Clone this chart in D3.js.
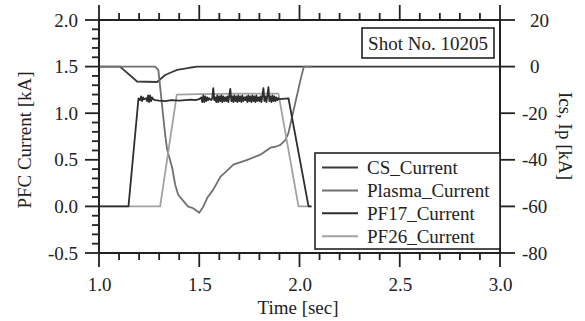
<!DOCTYPE html>
<html>
<head>
<meta charset="utf-8">
<script src="https://cdn.jsdelivr.net/npm/d3@7"></script>
<style>
  body { margin: 0; background: #fff; }
  svg text { font-family: "Liberation Serif", "Times New Roman", serif; fill: #222; }
</style>
</head>
<body>
<svg id="chart" width="585" height="321"></svg>
<script>
// traces: [time sec, value]
var csCurrent = [[1.0,0],[1.105,0],[1.19,-6.4],[1.29,-6.6],[1.33,-3.6],[1.37,-2.1],[1.39,-1.4],[1.45,-0.5],[1.49,0],[3.0,0]];

var plasmaCurrent = [[1.0,0],[1.28,0],[1.296,-1.4],[1.33,-29.3],[1.34,-35.7],[1.365,-43.4],[1.38,-50.7],[1.395,-55],
  [1.415,-57.1],[1.445,-60.1],[1.465,-60.6],[1.48,-61.4],[1.50,-62.7],[1.52,-60.1],[1.54,-56.3],[1.57,-52.8],
  [1.605,-47.3],[1.64,-44.5],[1.67,-42.1],[1.74,-40],[1.805,-37.8],[1.855,-34.8],[1.88,-34.4],[1.905,-33.6],
  [1.93,-31.4],[1.945,-28.4],[2.005,-5.7],[2.02,-0.6],[2.022,0],[2.06,0]];

var pf17Current = [[1.0,0],[1.147,0],[1.197,1.16],[1.205,1.14],[1.21,1.18],[1.215,1.13],[1.22,1.17],[1.225,1.15],
  [1.235,1.16],[1.24,1.13],[1.245,1.19],[1.25,1.12],[1.255,1.19],[1.26,1.13],[1.265,1.17],[1.27,1.15],[1.28,1.14],
  [1.30,1.135],[1.33,1.13],[1.36,1.14],[1.40,1.135],[1.43,1.14],[1.46,1.145],[1.48,1.14],[1.50,1.15],
  [1.51,1.17],[1.515,1.12],[1.52,1.19],[1.525,1.12],[1.53,1.18],[1.535,1.13],[1.54,1.17],[1.545,1.14],[1.55,1.16],
  [1.56,1.14],[1.565,1.16],[1.57,1.27],[1.575,1.14],[1.58,1.17],[1.585,1.12],[1.59,1.19],[1.595,1.12],[1.60,1.18],
  [1.605,1.13],[1.61,1.19],[1.615,1.12],[1.62,1.18],[1.625,1.13],[1.63,1.17],[1.635,1.13],[1.64,1.18],[1.645,1.12],
  [1.65,1.19],[1.655,1.26],[1.66,1.13],[1.665,1.18],[1.67,1.12],[1.675,1.19],[1.68,1.13],[1.685,1.18],[1.69,1.12],
  [1.695,1.19],[1.70,1.13],[1.705,1.18],[1.71,1.12],[1.715,1.19],[1.72,1.13],[1.725,1.17],[1.73,1.14],[1.735,1.18],
  [1.74,1.12],[1.745,1.19],[1.75,1.13],[1.755,1.18],[1.76,1.12],[1.765,1.19],[1.77,1.13],[1.775,1.18],[1.78,1.12],
  [1.785,1.19],[1.79,1.13],[1.795,1.17],[1.80,1.13],[1.805,1.18],[1.81,1.12],[1.815,1.19],[1.82,1.27],[1.825,1.13],
  [1.83,1.18],[1.835,1.12],[1.84,1.19],[1.845,1.28],[1.85,1.13],[1.855,1.18],[1.86,1.12],[1.865,1.19],[1.87,1.13],
  [1.875,1.18],[1.88,1.13],[1.885,1.17],[1.89,1.14],[1.895,1.16],[1.90,1.15],[1.945,1.16],[2.045,0],[2.06,0]];

var pf26Current = [[1.0,0],[1.305,0],[1.388,1.2],[1.5,1.205],[1.7,1.21],[1.895,1.21],[1.995,0],[2.06,0]];

var seriesNames = ["CS_Current", "Plasma_Current", "PF17_Current", "PF26_Current"];
var seriesColors = ["#3a3a3a", "#707070", "#2e2e2e", "#a2a2a2"];

var xTicks = [1.0, 1.5, 2.0, 2.5, 3.0];
var leftTicks = [-0.5, 0.0, 0.5, 1.0, 1.5, 2.0];
var rightTicks = [-80, -60, -40, -20, 0, 20];
var shotLabel = "Shot No. 10205";

var margin = {top: 20, right: 85, bottom: 68, left: 99};
var W = 585, H = 321;
var iw = W - margin.left - margin.right, ih = H - margin.top - margin.bottom;

var svg = d3.select("#chart");
var g = svg.append("g").attr("transform", "translate(" + margin.left + "," + margin.top + ")");

var x = d3.scaleLinear().domain([1.0, 3.0]).range([0, iw]);
var yL = d3.scaleLinear().domain([-0.5, 2.0]).range([ih, 0]);
var yR = d3.scaleLinear().domain([-80, 20]).range([ih, 0]);

var xMinor = d3.range(10, 31).map(function(d){ return d / 10; }).filter(function(d){ return xTicks.indexOf(d) < 0; });
var yMinor = d3.range(-5, 21).map(function(d){ return d / 10; }).filter(function(d){ return leftTicks.indexOf(d) < 0; });

// axes give the labels, tick marks are drawn as small filled rects below
function styleAxis(sel) {
  sel.select(".domain").remove();
  sel.selectAll(".tick line").remove();
  sel.selectAll("text").style("font-size", "19px").attr("fill", "#222");
}

g.append("g").attr("transform", "translate(0," + ih + ")")
  .call(d3.axisBottom(x).tickValues(xTicks).tickSize(14).tickPadding(11).tickFormat(d3.format(".1f")))
  .call(styleAxis);
g.append("g")
  .call(d3.axisLeft(yL).tickValues(leftTicks).tickSize(14).tickPadding(7)
    .tickFormat(function(d){ return d < 0 ? "-" + d3.format(".1f")(-d) : d3.format(".1f")(d); }))
  .call(styleAxis);
var rAx = g.append("g").attr("transform", "translate(" + iw + ",0)")
  .call(d3.axisRight(yR).tickValues(rightTicks).tickSize(15).tickPadding(15)
    .tickFormat(function(d){ return d < 0 ? "-" + (-d) : d; }))
  .call(styleAxis);
rAx.selectAll("text").attr("dx", function(d){ return d < 0 ? -8 : 0; });

// traces
var lineL = d3.line().x(function(d){ return x(d[0]); }).y(function(d){ return yL(d[1]); });
var lineR = d3.line().x(function(d){ return x(d[0]); }).y(function(d){ return yR(d[1]); });

var traces = [
  {data: csCurrent, line: lineR, color: seriesColors[0]},
  {data: plasmaCurrent, line: lineR, color: seriesColors[1]},
  {data: pf26Current, line: lineL, color: seriesColors[3]},
  {data: pf17Current, line: lineL, color: seriesColors[2]}
];
traces.forEach(function(t){
  g.append("path").datum(t.data)
    .attr("d", t.line)
    .attr("fill", "none")
    .attr("stroke", t.color)
    .attr("stroke-width", 1.8)
    .attr("stroke-linejoin", "round");
});

// frame
g.append("rect").attr("x", 0).attr("y", 0).attr("width", iw).attr("height", ih)
  .attr("fill", "none").attr("stroke", "#222").attr("stroke-width", 2);

// tick marks, outside the frame
var tw = 1.8;
var xAll = xTicks.concat(xMinor);
function xLen(d) { return xTicks.indexOf(d) >= 0 ? 14 : 7; }
function lLen(d) { return leftTicks.indexOf(d) >= 0 ? 14 : 7; }
var tk = g.append("g").attr("fill", "#222");
tk.selectAll("rect.xb").data(xAll).join("rect").attr("class", "xb")
  .attr("x", function(d){ return x(d) - tw / 2; }).attr("width", tw)
  .attr("y", ih).attr("height", function(d){ return xLen(d); });
tk.selectAll("rect.xt").data(xAll).join("rect").attr("class", "xt")
  .attr("x", function(d){ return x(d) - tw / 2; }).attr("width", tw)
  .attr("y", function(d){ return -(xLen(d) === 14 ? 15 : 7); })
  .attr("height", function(d){ return xLen(d) === 14 ? 15 : 7; });
tk.selectAll("rect.yl").data(leftTicks.concat(yMinor)).join("rect").attr("class", "yl")
  .attr("y", function(d){ return yL(d) - tw / 2; }).attr("height", tw)
  .attr("x", function(d){ return -lLen(d); }).attr("width", function(d){ return lLen(d); });
tk.selectAll("rect.yr").data(rightTicks).join("rect").attr("class", "yr")
  .attr("y", function(d){ return yR(d) - tw / 2; }).attr("height", tw)
  .attr("x", iw).attr("width", 15);

// shot label box
var shot = g.append("g").attr("transform", "translate(" + (362 - margin.left) + "," + (28 - margin.top) + ")");
shot.append("rect").attr("width", 132).attr("height", 30)
  .attr("fill", "#fff").attr("stroke", "#222").attr("stroke-width", 1.6);
shot.append("text").attr("x", 66).attr("y", 22).attr("text-anchor", "middle")
  .style("font-size", "19px").text(shotLabel);

// legend
var leg = g.append("g").attr("transform", "translate(" + (315 - margin.left) + "," + (153 - margin.top) + ")");
leg.append("rect").attr("width", iw - (315 - margin.left)).attr("height", 96)
  .attr("fill", "#fff").attr("stroke", "#222").attr("stroke-width", 1.6);
seriesNames.forEach(function(name, i){
  var yy = 14.5 + i * 22.9;
  leg.append("line").attr("x1", 7).attr("x2", 43).attr("y1", yy).attr("y2", yy)
    .attr("stroke", seriesColors[i]).attr("stroke-width", 2);
  leg.append("text").attr("x", 52).attr("y", yy).attr("dy", "0.35em")
    .style("font-size", "19px").text(name);
});

// axis titles
svg.append("text").attr("transform", "translate(298,314)").attr("text-anchor", "middle")
  .style("font-size", "19px").text("Time [sec]");
svg.append("text").attr("transform", "translate(31,140) rotate(-90)").attr("text-anchor", "middle")
  .style("font-size", "19px").text("PFC Current [kA]");
svg.append("text").attr("transform", "translate(559,136) rotate(90)").attr("text-anchor", "middle")
  .style("font-size", "19px").text("Ics, Ip [kA]");
</script>
</body>
</html>
